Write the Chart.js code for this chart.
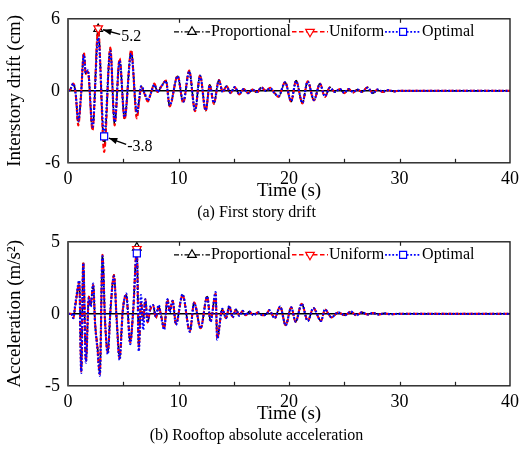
<!DOCTYPE html>
<html>
<head>
<meta charset="utf-8">
<script src="https://cdn.jsdelivr.net/npm/chart.js@4.4.1/dist/chart.umd.min.js"></script>
<style>
  html, body { margin: 0; padding: 0; background: #fff; }
  #wrap { position: relative; width: 525px; height: 462px; }
  .panel { position: absolute; left: 0; width: 525px; }
  #p1 { top: 0; height: 223px; }
  #p2 { top: 223px; height: 239px; }
</style>
</head>
<body>
<div id="wrap">
  <div class="panel" id="p1"><canvas id="drift"></canvas></div>
  <div class="panel" id="p2"><canvas id="accel"></canvas></div>
</div>
<script>
// (a) first story drift, cm
const driftTime = [
  0, 0.2, 0.48, 0.7, 0.93, 1.15, 1.44, 1.6, 1.8, 2.22,
  2.73, 3.27, 3.83, 4.22, 4.67, 5.12, 5.72, 6.23, 6.45, 6.62,
  6.9, 7.22, 7.5, 7.82, 8.1, 8.4, 8.87, 9.2, 9.92, 10.43,
  10.97, 11.5, 11.95, 12.46, 12.83, 13.2, 13.66, 14.0, 14.35, 14.7,
  15.1, 15.5, 15.9, 16.3, 16.7, 17.1, 17.5, 17.9, 18.3, 18.7,
  19.05, 19.65, 20.19, 20.64, 21.21, 21.69, 22.26, 22.8, 23.25, 23.7,
  24.15, 24.6, 25.0, 25.4, 25.8, 26.2, 26.6, 27.1, 27.6, 28.0,
  28.5, 29.0, 29.5, 30, 35, 40
];
const driftProp = [
  0, 0.1, 0.6, -0.3, -2.7, -0.8, 3.1, 1.45, 1.65, -3.2,
  5.15, -4.6, 3.5, -2.8, 2.6, -2.3, 3.3, -2.1, -0.7, 0.35,
  -0.15, -0.85, -0.2, 0.55, -0.1, 0.3, 0.8, -1.25, 1.2, -0.95,
  1.65, -1.65, 1.3, -1.65, 0.5, -1.05, 0.9, -0.1, 0.4, -0.2,
  0.3, -0.3, 0.15, -0.2, 0.1, -0.15, 0.3, 0.0, 0.2, -0.2,
  -0.5, 0.7, -0.9, 0.85, -1.0, 0.8, -0.8, 0.6, -0.5, 0.3,
  -0.1, 0.15, -0.2, 0.15, -0.15, 0.1, -0.1, 0.3, -0.2, 0.1,
  -0.1, 0.05, -0.05, 0, 0, 0
];
const driftUni = [
  0, 0.1, 0.6, -0.3, -2.9, -0.8, 3.2, 1.4, 1.6, -3.3,
  5.2, -5.1, 3.6, -2.9, 2.7, -2.4, 3.4, -2.3, -0.8, 0.3,
  -0.2, -0.9, -0.2, 0.6, -0.1, 0.3, 0.85, -1.3, 1.25, -1.0,
  1.7, -1.7, 1.3, -1.7, 0.5, -1.1, 0.9, -0.1, 0.4, -0.2,
  0.3, -0.3, 0.15, -0.2, 0.1, -0.15, 0.3, 0.0, 0.25, -0.2,
  -0.5, 0.75, -0.9, 0.85, -1.05, 0.8, -0.8, 0.6, -0.5, 0.3,
  -0.1, 0.15, -0.2, 0.15, -0.15, 0.1, -0.1, 0.3, -0.2, 0.1,
  -0.1, 0.05, -0.05, 0, 0, 0
];
const driftOpt = [
  0, 0.1, 0.6, -0.3, -2.5, -0.7, 3.0, 1.5, 1.7, -3.0,
  4.4, -3.8, 3.3, -2.6, 2.5, -2.2, 3.1, -1.8, -0.6, 0.4,
  -0.1, -0.8, -0.2, 0.5, -0.1, 0.3, 0.8, -1.2, 1.2, -0.9,
  1.6, -1.6, 1.25, -1.6, 0.45, -1.0, 0.85, -0.1, 0.35, -0.15,
  0.3, -0.25, 0.15, -0.2, 0.1, -0.1, 0.25, 0.0, 0.2, -0.2,
  -0.45, 0.7, -0.85, 0.8, -1.0, 0.75, -0.75, 0.55, -0.45, 0.25,
  -0.1, 0.15, -0.15, 0.15, -0.1, 0.1, -0.1, 0.25, -0.2, 0.1,
  -0.05, 0.05, -0.05, 0, 0, 0
];

// (b) rooftop absolute acceleration, m/s2
const accTime = [
  0, 0.3, 0.48, 0.65, 0.78, 1.02, 1.2, 1.38, 1.62, 1.89,
  2.05, 2.28, 2.45, 2.67, 2.88, 3.12, 3.35, 3.6, 3.85, 4.16,
  4.4, 4.67, 4.95, 5.27, 5.63, 5.9, 6.23, 6.41, 6.6, 6.8,
  7.0, 7.2, 7.45, 7.7, 7.95, 8.2, 8.45, 8.7, 9.0, 9.2,
  9.47, 9.77, 10.37, 11.03, 11.42, 12.0, 12.6, 12.9, 13.36, 13.5,
  13.96, 14.3, 14.6, 14.9, 15.2, 15.5, 15.8, 16.1, 16.4, 16.8,
  17.2, 17.6, 18.0, 18.2, 18.7, 19.2, 19.7, 20.2, 20.6, 21.15,
  21.7, 22.2, 22.9, 23.25, 23.85, 24.45, 25.05, 25.6, 26.1, 26.6,
  27.1, 27.6, 28.1, 28.6, 29.2, 30, 35, 40
];
const accProp = [
  0, 0.0, -0.3, 0.5, 1.2, 2.2, -3.9, 3.6, -3.2, 1.2,
  0.6, 2.0, -0.6, -2.3, -4.1, 4.1, -0.5, -2.6, 0.3, 2.7,
  -0.3, -3.0, 0.2, 1.3, -1.9, 0.2, 4.6, -2.3, 0.8, -0.4,
  1.0, -0.6, 0.3, 0.6, -0.3, 0.5, -0.2, -1.0, 1.0, 0.2,
  0.9, -0.7, 1.3, -1.2, 0.8, -1.0, 1.2, -0.5, 1.4, -1.7,
  0.3, -0.3, 0.5, -0.2, 0.3, -0.1, 0.2, -0.1, 0.15, -0.1,
  0.1, -0.1, 0.0, 0.25, -0.3, 0.5, -0.8, 0.45, -0.55, 0.7,
  -0.5, 0.4, -0.5, 0.3, -0.25, 0.1, -0.1, 0.15, -0.1, 0.1,
  -0.05, 0.05, -0.05, 0.03, -0.03, 0, 0, 0
];
const accUni = [
  0, 0.0, -0.3, 0.5, 1.2, 2.2, -4.0, 3.6, -3.3, 1.2,
  0.6, 2.0, -0.6, -2.4, -4.2, 4.1, -0.5, -2.7, 0.3, 2.7,
  -0.3, -3.1, 0.2, 1.3, -2.0, 0.2, 4.5, -2.4, 0.8, -0.4,
  1.0, -0.6, 0.3, 0.6, -0.3, 0.5, -0.2, -1.0, 1.0, 0.2,
  0.9, -0.7, 1.3, -1.2, 0.8, -1.0, 1.2, -0.5, 1.4, -1.7,
  0.3, -0.3, 0.5, -0.2, 0.3, -0.1, 0.2, -0.1, 0.15, -0.1,
  0.1, -0.1, 0.0, 0.25, -0.3, 0.5, -0.8, 0.45, -0.55, 0.7,
  -0.5, 0.4, -0.5, 0.3, -0.25, 0.1, -0.1, 0.15, -0.1, 0.1,
  -0.05, 0.05, -0.05, 0.03, -0.03, 0, 0, 0
];
const accOpt = [
  0, 0.0, -0.3, 0.6, 1.3, 2.3, -4.1, 3.5, -3.4, 1.1,
  0.5, 2.1, -0.7, -2.5, -4.3, 4.0, -0.4, -2.8, 0.4, 2.6,
  -0.4, -3.2, 0.1, 1.4, -2.1, 0.3, 4.2, -2.6, 1.3, -1.1,
  1.0, -0.6, 0.5, 0.6, -0.2, 0.6, -0.3, -1.1, 1.0, 0.1,
  0.9, -0.75, 1.35, -1.25, 0.75, -1.0, 1.2, -0.55, 1.5, -1.8,
  0.35, -0.3, 0.55, -0.25, 0.3, -0.15, 0.2, -0.1, 0.15, -0.1,
  0.1, -0.1, 0.0, 0.25, -0.3, 0.5, -0.8, 0.45, -0.55, 0.7,
  -0.5, 0.4, -0.5, 0.3, -0.25, 0.1, -0.1, 0.15, -0.1, 0.1,
  -0.05, 0.05, -0.05, 0.03, -0.03, 0, 0, 0
];

const seriesNames = ["Proportional", "Uniform", "Optimal"];
const seriesColors = ["#000000", "#ff0000", "#0000ff"];
const seriesDash = [[5, 2, 1.5, 2], [4.5, 2.5], [1.8, 1.8]];
const seriesWidth = [1.6, 2, 2.2];
const seriesMarker = ["up", "down", "square"];

Chart.defaults.font.family = '"Liberation Serif", "Times New Roman", serif';
Chart.defaults.color = "#000";

const toPoints = (t, v) => t.map((x, i) => ({ x: x, y: v[i] }));

// index of the extreme value the marker sits on
const argExt = (v, mode) => {
    let k = 0;
    v.forEach((y, i) => {
        if (mode === "min" ? y < v[k] : y > v[k]) k = i;
    });
    return k;
};

const makeDatasets = (t, values, ext) =>
    values.map((v, i) => {
        const peak = argExt(v, ext[i]);
        return {
            label: seriesNames[i],
            data: toPoints(t, v),
            borderColor: seriesColors[i],
            borderDash: seriesDash[i],
            borderWidth: seriesWidth[i],
            cubicInterpolationMode: "monotone",
            fill: false,
            order: 2 - i,
            peakIndex: peak,
            pointRadius: (c) => (c.dataIndex === peak ? 5 : 0),
            pointStyle: seriesMarker[i] === "square" ? "rect" : "triangle",
            rotation: seriesMarker[i] === "down" ? 180 : 0,
            pointBackgroundColor: "#fff",
            pointBorderColor: seriesColors[i],
            pointBorderWidth: 1.2,
        };
    });

const drawMarker = (ctx, kind, x, y, color) => {
    ctx.save();
    ctx.setLineDash([]);
    ctx.strokeStyle = color;
    ctx.fillStyle = "#fff";
    ctx.lineWidth = 1.2;
    ctx.beginPath();
    if (kind === "square") {
        ctx.rect(x - 3.5, y - 3.5, 7, 7);
    } else {
        const s = kind === "up" ? 1 : -1;
        ctx.moveTo(x, y - 5 * s);
        ctx.lineTo(x + 4.3, y + 2.5 * s);
        ctx.lineTo(x - 4.3, y + 2.5 * s);
        ctx.closePath();
    }
    ctx.fill();
    ctx.stroke();
    ctx.restore();
};

const arrowNote = (ctx, px, py, dx, dy, text) => {
    const tx = px + dx, ty = py + dy;
    const ang = Math.atan2(py - ty, px - tx);
    const hx = px - Math.cos(ang) * 5, hy = py - Math.sin(ang) * 5;
    ctx.save();
    ctx.strokeStyle = "#000";
    ctx.fillStyle = "#000";
    ctx.lineWidth = 1.5;
    ctx.beginPath();
    ctx.moveTo(tx, ty);
    ctx.lineTo(hx, hy);
    ctx.stroke();
    ctx.beginPath();
    ctx.moveTo(hx, hy);
    ctx.lineTo(hx - 9 * Math.cos(ang - 0.35), hy - 9 * Math.sin(ang - 0.35));
    ctx.lineTo(hx - 9 * Math.cos(ang + 0.35), hy - 9 * Math.sin(ang + 0.35));
    ctx.closePath();
    ctx.fill();
    ctx.font = '16px "Liberation Serif"';
    ctx.textBaseline = "middle";
    ctx.fillText(text, tx + 1, ty + 2);
    ctx.restore();
};

// frame, inner tick marks, legend and notes
const decor = {
    id: "decor",
    afterDatasetsDraw(chart, args, opts) {
        const ctx = chart.ctx;
        const a = chart.chartArea;
        const xs = chart.scales.x;
        ctx.save();
        ctx.setLineDash([]);
        ctx.strokeStyle = "#222";
        ctx.lineWidth = 1.2;
        for (let t = 5; t < 40; t += 5) {
            const px = Math.round(xs.getPixelForValue(t)) + 0.5;
            ctx.beginPath();
            ctx.moveTo(px, a.bottom);
            ctx.lineTo(px, a.bottom - 4);
            ctx.stroke();
        }
        for (let t = 10; t < 40; t += 10) {
            const px = Math.round(xs.getPixelForValue(t)) + 0.5;
            ctx.beginPath();
            ctx.moveTo(px, a.top);
            ctx.lineTo(px, a.top + 4);
            ctx.stroke();
        }
        ctx.lineWidth = 1.4;
        ctx.strokeRect(a.left, a.top, a.right - a.left, a.bottom - a.top);
        ctx.strokeStyle = "#555";
        ctx.lineWidth = 2;
        ctx.beginPath();
        ctx.moveTo(a.left, a.top);
        ctx.lineTo(a.left, a.bottom);
        ctx.stroke();

        // legend inside the plot
        const ly = a.top + 13;
        let lx = 174;
        ctx.font = '16px "Liberation Serif"';
        ctx.textBaseline = "middle";
        seriesNames.forEach((name, i) => {
            ctx.strokeStyle = seriesColors[i];
            ctx.lineWidth = seriesWidth[i] * 0.8;
            ctx.setLineDash(seriesDash[i]);
            ctx.beginPath();
            ctx.moveTo(lx, ly);
            ctx.lineTo(lx + 36, ly);
            ctx.stroke();
            ctx.setLineDash([]);
            drawMarker(ctx, seriesMarker[i], lx + 18, ly, seriesColors[i]);
            ctx.fillStyle = "#000";
            ctx.fillText(name, lx + 37, ly);
            lx += 37 + ctx.measureText(name).width + 1;
        });
        ctx.restore();

        (opts.notes || []).forEach((n) => {
            const ds = chart.data.datasets[n.ds];
            const pt = chart.getDatasetMeta(n.ds).data[ds.peakIndex];
            const val = ds.data[ds.peakIndex].y;
            arrowNote(ctx, pt.x, pt.y, n.dx, n.dy, val.toFixed(1));
        });
    },
};

const makeChart = (id, t, values, ext, yMax, yTitle, caption, padBottom, notes) =>
    new Chart(document.getElementById(id).getContext("2d"), {
        type: "line",
        data: { datasets: makeDatasets(t, values, ext) },
        options: {
            responsive: true,
            maintainAspectRatio: false,
            animation: false,
            devicePixelRatio: 1,
            layout: { padding: { top: 12, right: 12, left: 0, bottom: padBottom } },
            plugins: {
                legend: { display: false },
                tooltip: { enabled: false },
                title: {
                    display: true,
                    position: "bottom",
                    text: caption,
                    font: { size: 16, weight: "normal" },
                    padding: { top: 0, bottom: 1 },
                },
                decor: { notes: notes },
            },
            scales: {
                x: {
                    type: "linear",
                    min: 0,
                    max: 40,
                    ticks: { stepSize: 10, padding: 6, font: { size: 18 }, color: "#000" },
                    grid: { display: false, drawTicks: false },
                    border: { display: false },
                    title: { display: true, text: "Time (s)", font: { size: 19 }, padding: { top: 0, bottom: 0 } },
                    afterFit: (s) => { s.height = 40; },
                },
                y: {
                    min: -yMax,
                    max: yMax,
                    ticks: { stepSize: yMax, padding: 8, font: { size: 18 }, color: "#000" },
                    grid: {
                        drawTicks: false,
                        color: (c) => (c.tick && c.tick.value === 0 ? "#000" : "rgba(0,0,0,0)"),
                        lineWidth: 1.4,
                    },
                    border: { display: false },
                    title: { display: true, text: yTitle, font: { size: 19 }, padding: { top: 4, bottom: 0 } },
                    afterFit: (s) => { s.width = 68; },
                },
            },
        },
        plugins: [decor],
    });

makeChart("drift", driftTime, [driftProp, driftUni, driftOpt], ["max", "max", "min"], 6,
    "Interstory drift (cm)", "(a) First story drift", 0,
    [{ ds: 1, dx: 22, dy: 6 }, { ds: 2, dx: 22, dy: 8 }]);
makeChart("accel", accTime, [accProp, accUni, accOpt], ["max", "max", "max"], 5,
    "Acceleration (m/s\u00B2)", "(b) Rooftop absolute acceleration", 16, []);
</script>
</body>
</html>
